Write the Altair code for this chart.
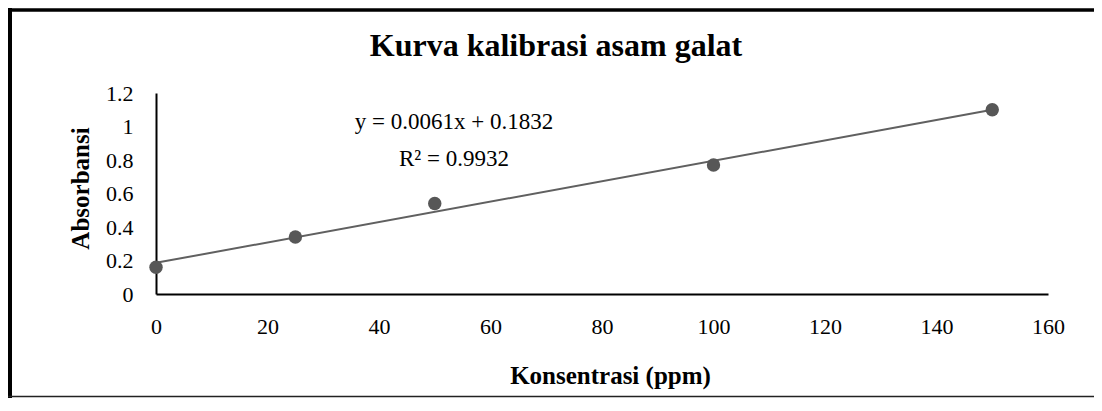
import altair as alt
import pandas as pd

# data
konsentrasi = [0, 25, 50, 100, 150]
absorbansi = [0.16, 0.34, 0.54, 0.77, 1.10]
x_ticks = [0, 20, 40, 60, 80, 100, 120, 140, 160]
y_ticks = [0, 0.2, 0.4, 0.6, 0.8, 1.0, 1.2]
title_text = ["Kurva kalibrasi asam galat"]
equation_lines = ["y = 0.0061x + 0.1832", "R² = 0.9932"]

FONT = "Palatino Linotype, Book Antiqua, Palatino, Liberation Serif"
W, H = 892, 201
PAD = {"left": 148, "top": 85, "right": 46, "bottom": 104}

df = pd.DataFrame({"x": konsentrasi, "y": absorbansi})

xs = alt.Scale(domain=[0, 160], nice=False, zero=True)
ys = alt.Scale(domain=[0, 1.2], nice=False, zero=True)

x_axis = alt.Axis(
    values=x_ticks,
    labelOverlap=False,
    labelFlush=False,
    title="Konsentrasi (ppm)",
    titleX=454,
    titleY=89,
    titleAlign="center",
    titleBaseline="alphabetic",
    titleAngle=0,
    titleFontSize=25,
)
y_axis = alt.Axis(
    values=y_ticks,
    labelOverlap=False,
    labelFlush=False,
    labelBound=False,
    labelSeparation=0,
    labelExpr="format(datum.value, '.1~f')",
    title="Absorbansi",
    titleX=-68,
    titleY=95,
    titleAngle=270,
    titleAlign="center",
    titleBaseline="alphabetic",
    titleFontSize=25,
)

X = alt.X("x:Q", scale=xs, axis=x_axis)
Y = alt.Y("y:Q", scale=ys, axis=y_axis)

base = alt.Chart(df)

points = base.mark_circle(size=180, opacity=1, color="#575757").encode(x=X, y=Y)

trend = base.transform_regression("x", "y", extent=[0, 150]).mark_line(
    color="#606060", strokeWidth=2
).encode(x=X, y=Y)

one = alt.Data(values=[{"k": 0}])

title = alt.Chart(alt.Data(values=[{"t": t} for t in title_text])).mark_text(
    font=FONT, fontSize=32, fontWeight="bold", color="#000000",
    align="center", baseline="alphabetic",
).encode(x=alt.value(400), y=alt.value(-37), text="t:N")

eq1 = alt.Chart(alt.Data(values=[{"t": equation_lines[0]}])).mark_text(
    font=FONT, fontSize=23, color="#000000", align="center", baseline="alphabetic",
).encode(x=alt.value(298), y=alt.value(36), text="t:N")

eq2 = alt.Chart(alt.Data(values=[{"t": equation_lines[1]}])).mark_text(
    font=FONT, fontSize=23, color="#000000", align="center", baseline="alphabetic",
).encode(x=alt.value(298), y=alt.value(73), text="t:N")

frame_top = alt.Chart(one).mark_rule(color="#000000", strokeWidth=3.5).encode(
    x=alt.value(-148), x2=alt.value(938), y=alt.value(-83)
)
frame_left = alt.Chart(one).mark_rule(color="#000000", strokeWidth=4).encode(
    x=alt.value(-146), y=alt.value(-85), y2=alt.value(305)
)
frame_bottom = alt.Chart(one).mark_rule(color="#222222", strokeWidth=1.5).encode(
    x=alt.value(-148), x2=alt.value(938), y=alt.value(303.5)
)

chart = (
    alt.layer(frame_top, frame_left, frame_bottom, trend, points, title, eq1, eq2)
    .properties(
        width=W,
        height=H,
        padding=PAD,
        autosize=alt.AutoSizeParams(type="none"),
        background="#ffffff",
    )
    .configure_view(strokeWidth=0)
    .configure_axis(
        grid=False,
        ticks=False,
        domainColor="#000000",
        domainWidth=2,
        labelFont=FONT,
        labelFontSize=22,
        labelColor="#000000",
        titleFont=FONT,
        titleFontSize=23,
        titleFontWeight="bold",
        titleColor="#000000",
    )
    .configure_axisX(labelPadding=22)
    .configure_axisY(labelPadding=23)
)

chart.save("out.html", embed_options={"renderer": "svg", "actions": False})
